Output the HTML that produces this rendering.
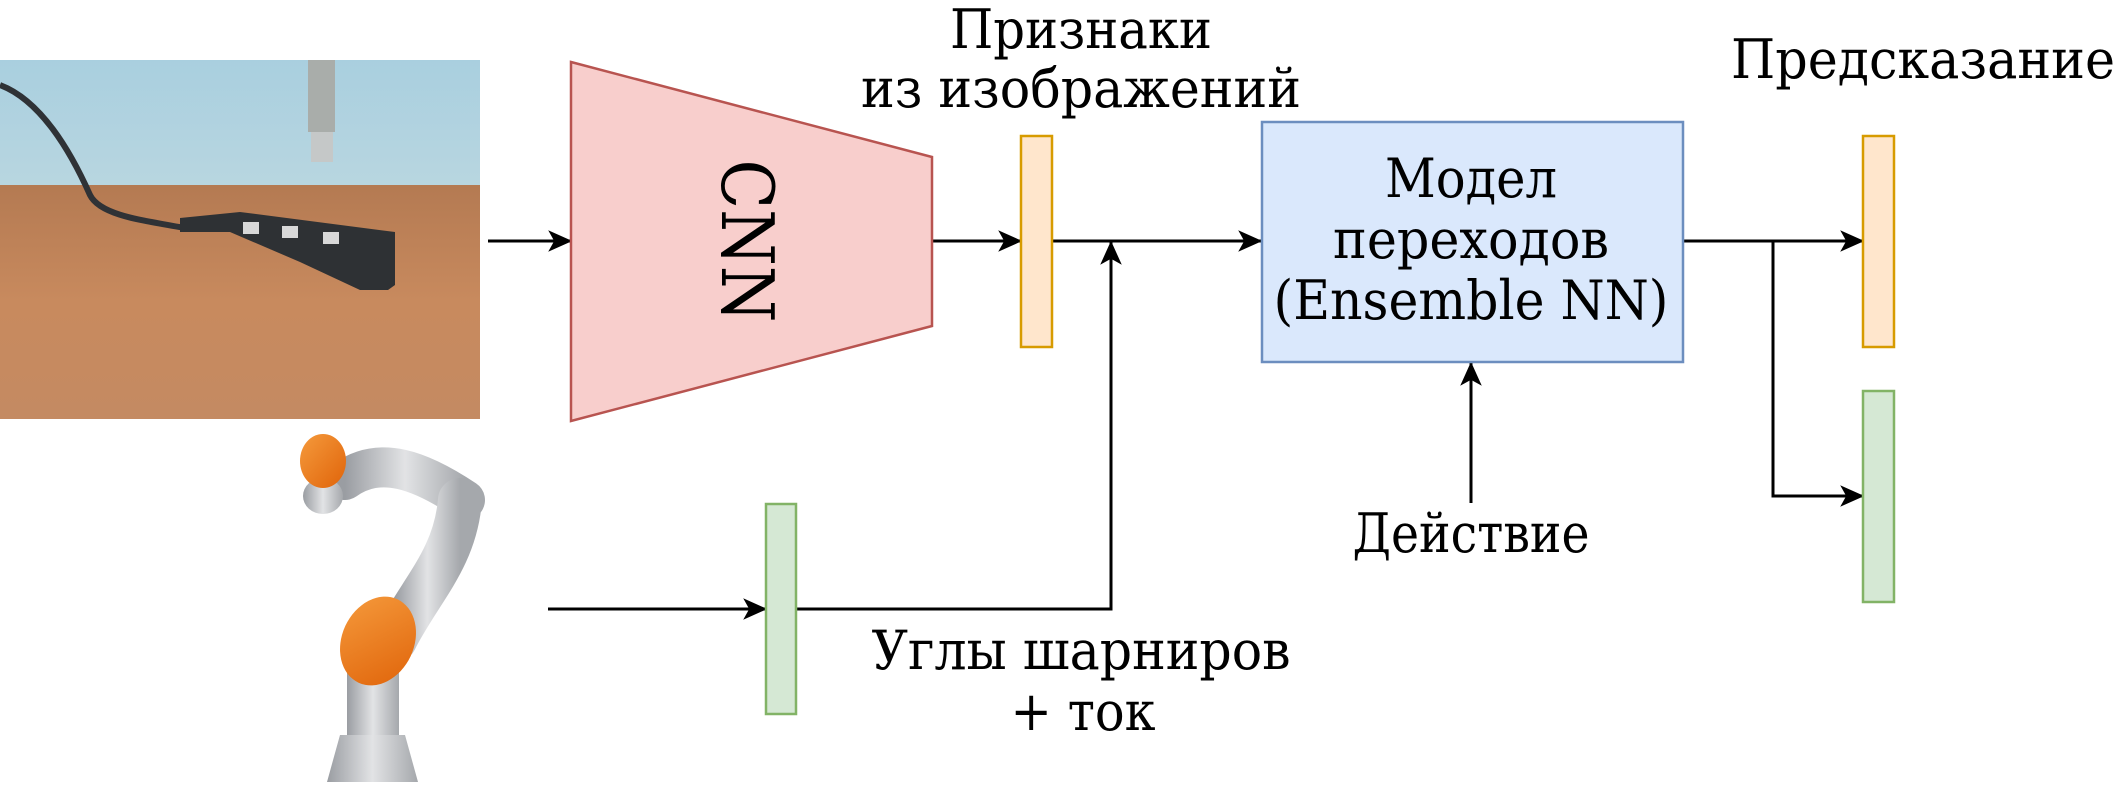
<!DOCTYPE html>
<html><head><meta charset="utf-8"><style>
html,body{margin:0;padding:0;background:#fff;}
svg{display:block;}
text{font-family:"DejaVu Serif Condensed","DejaVu Serif","Liberation Serif",serif;fill:#000;}
</style></head><body>
<svg width="2118" height="792" viewBox="0 0 2118 792" xmlns="http://www.w3.org/2000/svg">
<defs>
<linearGradient id="wall" x1="0" y1="0" x2="0" y2="1"><stop offset="0" stop-color="#a9cfdf"/><stop offset="1" stop-color="#b8d6e0"/></linearGradient>
<linearGradient id="wood" x1="0" y1="0" x2="0" y2="1"><stop offset="0" stop-color="#b47a52"/><stop offset="0.5" stop-color="#c88a5e"/><stop offset="1" stop-color="#c48a62"/></linearGradient>
<linearGradient id="metal" x1="0" y1="0" x2="1" y2="0"><stop offset="0" stop-color="#9a9da2"/><stop offset="0.5" stop-color="#e2e3e5"/><stop offset="1" stop-color="#a5a8ac"/></linearGradient>
<linearGradient id="org" x1="0" y1="0" x2="1" y2="1"><stop offset="0" stop-color="#f59a3c"/><stop offset="1" stop-color="#e0640a"/></linearGradient>
<marker id="ar" viewBox="0 0 20 20" refX="19" refY="10" markerWidth="24" markerHeight="24" markerUnits="userSpaceOnUse" orient="auto"><path d="M0,1 L20,10 L0,19 L5,10 Z" fill="#000"/></marker>
</defs>

<!-- photo -->
<rect x="0" y="60" width="480" height="126" fill="url(#wall)"/>
<rect x="0" y="185" width="480" height="234" fill="url(#wood)"/>
<rect x="308" y="60" width="27" height="72" fill="#a9adaa"/>
<rect x="311" y="132" width="22" height="30" fill="#c5c8c8"/>
<path d="M0,85 C40,100 70,150 90,195 C100,215 140,220 185,228" stroke="#2f3236" stroke-width="6" fill="none"/>
<path d="M180,218 L240,212 L395,232 L395,285 L388,290 L360,290 L300,262 L230,232 L180,232 Z" fill="#2e3134"/>
<rect x="243" y="222" width="16" height="12" fill="#d8d8d8"/>
<rect x="282" y="226" width="16" height="12" fill="#d8d8d8"/>
<rect x="323" y="232" width="16" height="12" fill="#d8d8d8"/>

<!-- robot -->
<path d="M345,480 C380,455 420,470 465,500" stroke="url(#metal)" stroke-width="40" fill="none" stroke-linecap="round"/>
<path d="M460,500 C455,560 420,590 395,640" stroke="url(#metal)" stroke-width="44" fill="none" stroke-linecap="round"/>
<rect x="347" y="660" width="52" height="95" fill="url(#metal)"/>
<path d="M340,735 L405,735 L418,782 L327,782 Z" fill="url(#metal)"/>
<ellipse cx="323" cy="496" rx="20" ry="18" fill="url(#metal)"/>
<ellipse cx="323" cy="461" rx="23" ry="27" fill="url(#org)"/>
<ellipse cx="378" cy="641" rx="36" ry="46" transform="rotate(25 378 641)" fill="url(#org)"/>

<!-- arrows -->
<g stroke="#000" stroke-width="3" fill="none">
<line x1="488" y1="241" x2="571" y2="241" marker-end="url(#ar)"/>
<line x1="932" y1="241" x2="1021" y2="241" marker-end="url(#ar)"/>
<line x1="1053" y1="241" x2="1261" y2="241" marker-end="url(#ar)"/>
<line x1="548" y1="609" x2="766" y2="609" marker-end="url(#ar)"/>
<polyline points="796,609 1111,609 1111,242" marker-end="url(#ar)"/>
<line x1="1683" y1="241" x2="1863" y2="241" marker-end="url(#ar)"/>
<polyline points="1773,241 1773,496 1863,496" marker-end="url(#ar)"/>
<line x1="1471" y1="503" x2="1471" y2="363" marker-end="url(#ar)"/>
</g>

<!-- CNN -->
<polygon points="571,62 932,157 932,326 571,421" fill="#f8cecc" stroke="#b85450" stroke-width="2.5"/>
<text x="747" y="241" font-size="72" text-anchor="middle" dominant-baseline="central" transform="rotate(90 747 241)">CNN</text>

<!-- bars -->
<rect x="1021" y="136" width="31" height="211" fill="#ffe6cc" stroke="#d79b00" stroke-width="2.5"/>
<rect x="766" y="504" width="30" height="210" fill="#d5e8d4" stroke="#82b366" stroke-width="2.5"/>
<rect x="1863" y="136" width="31" height="211" fill="#ffe6cc" stroke="#d79b00" stroke-width="2.5"/>
<rect x="1863" y="391" width="31" height="211" fill="#d5e8d4" stroke="#82b366" stroke-width="2.5"/>

<!-- model box -->
<rect x="1262" y="122" width="421" height="240" fill="#dae8fc" stroke="#6c8ebf" stroke-width="2.5"/>
<text x="1471" y="197" font-size="54" text-anchor="middle" textLength="172" lengthAdjust="spacingAndGlyphs">Модел</text>
<text x="1471" y="258" font-size="54" text-anchor="middle" textLength="276" lengthAdjust="spacingAndGlyphs">переходов</text>
<text x="1471" y="319" font-size="54" text-anchor="middle" textLength="395" lengthAdjust="spacingAndGlyphs">(Ensemble NN)</text>

<!-- labels -->
<text x="1081" y="48" font-size="54" text-anchor="middle" textLength="262" lengthAdjust="spacingAndGlyphs">Признаки</text>
<text x="1081" y="107" font-size="54" text-anchor="middle" textLength="440" lengthAdjust="spacingAndGlyphs">из изображений</text>
<text x="1923" y="78" font-size="54" text-anchor="middle" textLength="384" lengthAdjust="spacingAndGlyphs">Предсказание</text>
<text x="1471" y="552" font-size="54" text-anchor="middle" textLength="237" lengthAdjust="spacingAndGlyphs">Действие</text>
<text x="1081" y="669" font-size="54" text-anchor="middle" textLength="419" lengthAdjust="spacingAndGlyphs">Углы шарниров</text>
<text x="1083" y="730" font-size="54" text-anchor="middle" textLength="145" lengthAdjust="spacingAndGlyphs">+ ток</text>
</svg>
</body></html>
